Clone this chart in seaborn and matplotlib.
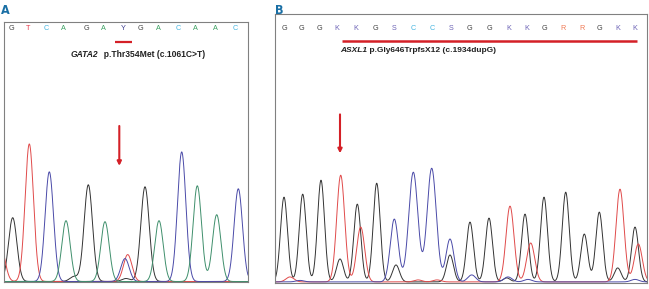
import numpy as np
import pandas as pd
import matplotlib
matplotlib.use("Agg")
import matplotlib.pyplot as plt
import seaborn as sns

sns.set_theme(style="white")
plt.rcParams['font.family'] = ['Liberation Sans', 'DejaVu Sans']

# ---------------- Panel A data (GATA2) ----------------
A_bases = ["G", "T", "C", "A", "G", "A", "Y", "G", "A", "C", "A", "A", "C"]
A_base_pos = [7.7, 24.3, 42.7, 59.3, 82, 99.3, 119.3, 136.7, 154.3, 174.3, 191, 211, 231]
A_G_pos = [8.7, 70, 84.3, 122, 141]
A_G_amp = [64, 5, 97, 3, 95]
A_T_pos = [-3, 25.3, 123.7]
A_T_amp = [34, 138, 27]
A_C_pos = [45.3, 121, 177.7, 234.3]
A_C_amp = [110, 23, 130, 93]
A_A_pos = [62, 101, 155, 193.3, 212.7]
A_A_amp = [61, 60, 61, 96, 67]
A_title_gene = "GATA2"
A_title_rest = "  p.Thr354Met (c.1061C>T)"

# ---------------- Panel B data (ASXL1) ----------------
B_bases = ["G", "G", "G", "K", "K", "G", "S", "C", "C", "S",
           "G", "G", "K", "K", "G", "R", "R", "G", "K", "K"]
B_base_pos = [9, 26, 44, 62, 81, 100, 119, 138.3, 157, 176,
              194, 214, 234, 252, 269, 288, 306.5, 324.3, 343.3, 360]
B_G_pos = [9, 27.7, 46, 65, 82.3, 101.7, 121, 175, 195, 214, 231.7, 250, 269, 290.7, 309.3, 324.3, 342.7, 360]
B_G_amp = [85, 88, 102, 23, 78, 99, 17, 27, 60, 64, 4, 68, 85, 90, 48, 70, 14, 55]
B_T_pos = [15, 65.7, 85.7, 143, 162, 235, 255.7, 345, 363.3]
B_T_amp = [5, 107, 55, 2, 2, 76, 39, 93, 38]
B_C_pos = [25, 119.3, 138.3, 156.7, 175, 196.7, 233, 253, 360]
B_C_amp = [1.5, 63, 110, 114, 43, 7, 5, 2.5, 2.5]
B_C_wid = [4, 4, 4.6, 4.6, 4, 4, 4, 4, 4]
B_title_gene = "ASXL1"
B_title_rest = " p.Gly646TrpfsX12 (c.1934dupG)"

# ---------------- styles ----------------
TRACE_COL = {"G": "#333333", "T": "#e04a4a", "C": "#4a4aa8", "A": "#3f8f6c"}
BASE_COL = {"G": "#444444", "T": "#e8394a", "C": "#45b5e0", "A": "#3aa060",
            "Y": "#3d3d8f", "K": "#6b62b5", "S": "#6b62b5", "R": "#f07a55"}
RED = "#d42027"
LABEL_COL = "#1a6fa5"


def trace(x, pos, amp, wid):
    y = np.zeros_like(x)
    for p, a, w in zip(pos, amp, wid):
        y += a * np.exp(-(x - p) ** 2 / (2 * w ** 2))
    return y


fig = plt.figure(figsize=(6.49, 2.89), dpi=100)
W, H = 649, 289


def make_ax(left, top, right, bottom):
    ax = fig.add_axes([left / W, 1 - bottom / H, (right - left) / W, (bottom - top) / H])
    for s in ax.spines.values():
        s.set_color("#808080")
        s.set_linewidth(0.8)
        s.set_visible(True)
        s.set_zorder(6)
    ax.set_xticks([])
    ax.set_yticks([])
    ax.set_facecolor("white")
    return ax


def draw_panel(ax, xmax, ymax, channels, bases, base_pos, letter_y):
    x = np.linspace(-10, xmax + 5, 2500)
    for ch, pos, amp, wid in channels:
        y = trace(x, pos, amp, wid)
        sns.lineplot(x=x, y=y, ax=ax, color=TRACE_COL[ch], linewidth=0.7,
                     estimator=None, sort=False)
    for b, p in zip(bases, base_pos):
        ax.text(p, letter_y, b, color=BASE_COL[b], fontsize=5.2, ha="center", va="center")
    ax.set_xlim(0, xmax)
    ax.set_ylim(-0.8, ymax)


def title(ax, x, y, gene, rest, size):
    t = ax.text(x, y, gene, fontsize=size, fontweight="bold", fontstyle="italic",
                ha="left", va="center", color="#222222")
    ax.annotate(rest, xy=(1, 0.5), xycoords=t, fontsize=size, fontweight="bold",
                ha="left", va="center", color="#222222")


# Panel A
axA = make_ax(4, 22, 248, 282.3)
draw_panel(axA, 244, 260.3,
           [("G", A_G_pos, A_G_amp, [4.2] * len(A_G_pos)),
            ("T", A_T_pos, A_T_amp, [4.2] * len(A_T_pos)),
            ("C", A_C_pos, A_C_amp, [4.2] * len(A_C_pos)),
            ("A", A_A_pos, A_A_amp, [4.2] * len(A_A_pos))],
           A_bases, A_base_pos, 253.3)
axA.plot([111, 128.3], [240, 240], color=RED, lw=1.6, solid_capstyle="butt")
title(axA, 67, 227.3, A_title_gene, A_title_rest, 6.15)
axA.annotate("", xy=(115.3, 116), xytext=(115.3, 156),
             arrowprops=dict(arrowstyle="-|>", color=RED, lw=1.5, mutation_scale=6,
                             shrinkA=0, shrinkB=0))
fig.text(5 / W, 1 - 10.5 / H, "A", color=LABEL_COL, fontsize=9, fontweight="bold",
         ha="center", va="center", family="DejaVu Sans", fontstretch="condensed")

# Panel B
axB = make_ax(275, 14, 647, 282.7)
draw_panel(axB, 372, 268.7,
           [("G", B_G_pos, B_G_amp, [3.5] * len(B_G_pos)),
            ("T", B_T_pos, B_T_amp, [4.0] * len(B_T_pos)),
            ("C", B_C_pos, B_C_amp, B_C_wid)],
           B_bases, B_base_pos, 253.7)
axB.plot([66.7, 361.7], [241.4, 241.4], color=RED, lw=1.8, solid_capstyle="butt")
title(axB, 65, 231.7, B_title_gene, B_title_rest, 6.0)
axB.annotate("", xy=(65, 129), xytext=(65, 168),
             arrowprops=dict(arrowstyle="-|>", color=RED, lw=1.5, mutation_scale=6,
                             shrinkA=0, shrinkB=0))
fig.text(279 / W, 1 - 10.5 / H, "B", color=LABEL_COL, fontsize=9, fontweight="bold",
         ha="center", va="center", family="DejaVu Sans", fontstretch="condensed")

fig.savefig("out.png", dpi=100, facecolor="white")
